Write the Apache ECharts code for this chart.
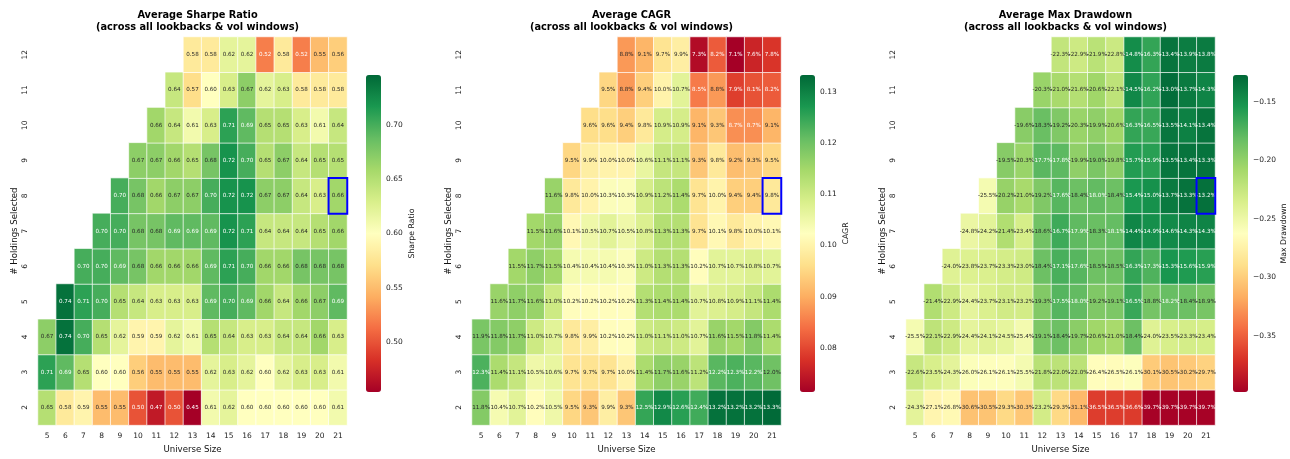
<!DOCTYPE html>
<html>
<head>
<meta charset="utf-8">
<script src="https://cdn.jsdelivr.net/npm/echarts@6/dist/echarts.min.js"></script>
<style>
html,body{margin:0;padding:0;background:#ffffff;}
#chart{width:1290px;height:459px;}
</style>
</head>
<body>
<div id="chart"></div>
<script>
// ---------------- DATA ----------------
const universeSizes = ['5','6','7','8','9','10','11','12','13','14','15','16','17','18','19','20','21'];
const holdingsSelected = ['2','3','4','5','6','7','8','9','10','11','12'];

// rows ordered by holdings 2..12, columns universe 5..21 (null = not tested)
const sharpeRows = [
  [0.65,0.58,0.59,0.55,0.55,0.50,0.47,0.50,0.45,0.61,0.62,0.60,0.60,0.60,0.60,0.60,0.61],
  [0.71,0.69,0.65,0.60,0.60,0.56,0.55,0.55,0.55,0.62,0.63,0.62,0.60,0.62,0.63,0.63,0.61],
  [0.67,0.74,0.70,0.65,0.62,0.59,0.59,0.62,0.61,0.65,0.64,0.63,0.63,0.64,0.64,0.66,0.63],
  [null,0.74,0.71,0.70,0.65,0.64,0.63,0.63,0.63,0.69,0.70,0.69,0.66,0.64,0.66,0.67,0.69],
  [null,null,0.70,0.70,0.69,0.68,0.66,0.66,0.66,0.69,0.71,0.70,0.66,0.66,0.68,0.68,0.68],
  [null,null,null,0.70,0.70,0.68,0.68,0.69,0.69,0.69,0.72,0.71,0.64,0.64,0.64,0.65,0.66],
  [null,null,null,null,0.70,0.68,0.66,0.67,0.67,0.70,0.72,0.72,0.67,0.67,0.64,0.63,0.66],
  [null,null,null,null,null,0.67,0.67,0.66,0.65,0.68,0.72,0.70,0.65,0.67,0.64,0.65,0.65],
  [null,null,null,null,null,null,0.66,0.64,0.61,0.63,0.71,0.69,0.65,0.65,0.63,0.61,0.64],
  [null,null,null,null,null,null,null,0.64,0.57,0.60,0.63,0.67,0.62,0.63,0.58,0.58,0.58],
  [null,null,null,null,null,null,null,null,0.58,0.58,0.62,0.62,0.52,0.58,0.52,0.55,0.56]
];

// CAGR in percent
const cagrRows = [
  [11.8,10.4,10.7,10.2,10.5,9.5,9.3,9.9,9.3,12.5,12.9,12.6,12.4,13.2,13.2,13.2,13.3],
  [12.3,11.4,11.1,10.5,10.6,9.7,9.7,9.7,10.0,11.4,11.7,11.6,11.2,12.2,12.3,12.2,12.0],
  [11.9,11.8,11.7,11.0,10.7,9.8,9.9,10.2,10.2,11.0,11.1,11.0,10.7,11.6,11.5,11.8,11.4],
  [null,11.6,11.7,11.6,11.0,10.2,10.2,10.2,10.2,11.3,11.4,11.4,10.7,10.8,10.9,11.1,11.4],
  [null,null,11.5,11.7,11.5,10.4,10.4,10.4,10.3,11.0,11.3,11.3,10.2,10.7,10.7,10.8,10.7],
  [null,null,null,11.5,11.6,10.1,10.5,10.7,10.5,10.8,11.3,11.3,9.7,10.1,9.8,10.0,10.1],
  [null,null,null,null,11.6,9.8,10.0,10.3,10.3,10.9,11.2,11.4,9.7,10.0,9.4,9.4,9.8],
  [null,null,null,null,null,9.5,9.9,10.0,10.0,10.6,11.1,11.1,9.3,9.8,9.2,9.3,9.5],
  [null,null,null,null,null,null,9.6,9.6,9.4,9.8,10.9,10.9,9.1,9.3,8.7,8.7,9.1],
  [null,null,null,null,null,null,null,9.5,8.8,9.4,10.0,10.7,8.5,8.8,7.9,8.1,8.2],
  [null,null,null,null,null,null,null,null,8.8,9.1,9.7,9.9,7.3,8.2,7.1,7.6,7.8]
];

// Max drawdown in percent
const mddRows = [
  [-24.3,-27.1,-26.8,-30.6,-30.5,-29.3,-30.3,-23.2,-29.3,-31.1,-36.5,-36.5,-36.6,-39.7,-39.7,-39.7,-39.7],
  [-22.6,-23.5,-24.3,-26.0,-26.1,-26.1,-25.5,-21.8,-22.0,-22.0,-26.4,-26.5,-26.1,-30.1,-30.5,-30.2,-29.7],
  [-25.5,-22.1,-22.9,-24.4,-24.1,-24.5,-25.4,-19.1,-18.4,-19.7,-20.6,-21.0,-18.4,-24.0,-23.5,-23.3,-23.4],
  [null,-21.4,-22.9,-24.4,-23.7,-23.1,-23.2,-19.3,-17.5,-18.0,-19.2,-19.1,-16.5,-18.8,-18.2,-18.4,-18.9],
  [null,null,-24.0,-23.8,-23.7,-23.3,-23.0,-18.4,-17.1,-17.6,-18.5,-18.5,-16.3,-17.3,-15.3,-15.6,-15.9],
  [null,null,null,-24.8,-24.2,-21.4,-23.4,-18.6,-16.7,-17.9,-18.3,-18.1,-14.4,-14.9,-14.6,-14.3,-14.3],
  [null,null,null,null,-25.5,-20.2,-21.0,-19.2,-17.6,-18.4,-18.0,-18.4,-15.4,-15.0,-13.7,-13.3,-13.2],
  [null,null,null,null,null,-19.5,-20.3,-17.7,-17.8,-19.9,-19.0,-19.8,-15.7,-15.9,-13.5,-13.4,-13.3],
  [null,null,null,null,null,null,-19.6,-18.3,-19.2,-20.3,-19.9,-20.6,-16.3,-16.5,-13.5,-14.1,-13.4],
  [null,null,null,null,null,null,null,-20.3,-21.0,-21.6,-20.6,-22.1,-14.5,-16.2,-13.0,-13.7,-14.3],
  [null,null,null,null,null,null,null,null,-22.3,-22.9,-21.9,-22.8,-14.8,-16.3,-13.4,-13.9,-13.8]
];

// colour-bar extents and ticks
const sharpeScale = [0.454, 0.746];
const cagrScale = [0.0714, 0.1333];
const mddScale = [-0.398, -0.127];
const sharpeTicks = [0.50, 0.55, 0.60, 0.65, 0.70];
const cagrTicks = [0.08, 0.09, 0.10, 0.11, 0.12, 0.13];
const mddTicks = [-0.35, -0.30, -0.25, -0.20, -0.15];

// highlighted configuration
const highlightUniverse = '21';
const highlightHoldings = '8';

// ---------------- STYLE ----------------
const FONT = 'DejaVu Sans';
const RdYlGn = ['#a50026','#d73027','#f46d43','#fdae61','#fee08b','#ffffbf','#d9ef8b','#a6d96a','#66bd63','#1a9850','#006837'];

function hex2rgb(h){return [parseInt(h.substr(1,2),16),parseInt(h.substr(3,2),16),parseInt(h.substr(5,2),16)];}
const stops = RdYlGn.map(hex2rgb);
function cmap(t){
  t = Math.max(0, Math.min(1, t));
  const p = t * (stops.length - 1);
  const i = Math.min(stops.length - 2, Math.floor(p));
  const f = p - i;
  return stops[i].map((c, k) => c + (stops[i+1][k] - c) * f);
}
function lum(rgb){
  const l = rgb.map(c => { c = c/255; return c <= 0.03928 ? c/12.92 : Math.pow((c+0.055)/1.055, 2.4); });
  return 0.2126*l[0] + 0.7152*l[1] + 0.0722*l[2];
}

const G = {top: 37, width: 309, height: 393};
const CB = {top: 75, width: 15, height: 317};

const panels = [
  {title:'Average Sharpe Ratio\n(across all lookbacks & vol windows)', rows: sharpeRows, factor: 1, scale: sharpeScale, ticks: sharpeTicks,
   name:'Sharpe Ratio', left: 38, cbLeft: 366, fmt: v => v.toFixed(2), tickFmt: v => v.toFixed(2)},
  {title:'Average CAGR\n(across all lookbacks & vol windows)', rows: cagrRows, factor: 100, scale: cagrScale, ticks: cagrTicks,
   name:'CAGR', left: 472, cbLeft: 800, fmt: v => (v*100).toFixed(1) + '%', tickFmt: v => v.toFixed(2)},
  {title:'Average Max Drawdown\n(across all lookbacks & vol windows)', rows: mddRows, factor: 100, scale: mddScale, ticks: mddTicks,
   name:'Max Drawdown', left: 906, cbLeft: 1233, fmt: v => (v*100).toFixed(1) + '%', tickFmt: v => v.toFixed(2).replace('-', '\u2212')}
];

const option = {
  backgroundColor: '#ffffff',
  animation: false,
  textStyle: {fontFamily: FONT},
  title: [], grid: [], xAxis: [], yAxis: [], visualMap: [], series: []
};

panels.forEach((p, i) => {
  const g = i * 2;
  option.title.push({
    text: p.title, left: p.left + G.width / 2, top: 4, textAlign: 'center',
    textStyle: {fontFamily: FONT, fontSize: 9.8, fontWeight: 'bold', color: '#000', lineHeight: 12.5}
  });
  option.grid.push({left: p.left, top: G.top, width: G.width, height: G.height});
  option.grid.push({left: p.cbLeft, top: CB.top, width: CB.width, height: CB.height});

  option.xAxis.push({
    type: 'category', gridIndex: g, data: universeSizes,
    axisLine: {show: false}, splitLine: {show: false}, splitArea: {show: false},
    axisTick: {alignWithLabel: true, length: 3.5, lineStyle: {color: '#333', width: 0.8}},
    axisLabel: {interval: 0, fontSize: 7.5, color: '#222', margin: 7, fontFamily: FONT},
    name: 'Universe Size', nameLocation: 'middle', nameGap: 19,
    nameTextStyle: {fontSize: 8.6, color: '#111', fontFamily: FONT}
  });
  option.xAxis.push({type: 'value', gridIndex: g + 1, show: false, min: 0, max: 1});

  option.yAxis.push({
    type: 'category', gridIndex: g, data: holdingsSelected,
    axisLine: {show: false}, splitLine: {show: false}, splitArea: {show: false},
    axisTick: {alignWithLabel: true, length: 3.5, lineStyle: {color: '#333', width: 0.8}},
    axisLabel: {interval: 0, fontSize: 7.5, color: '#222', margin: 9, rotate: 90, fontFamily: FONT},
    name: '# Holdings Selected', nameLocation: 'middle', nameGap: 19,
    nameTextStyle: {fontSize: 8.6, color: '#111', fontFamily: FONT}
  });
  option.yAxis.push({
    type: 'value', gridIndex: g + 1, min: p.scale[0], max: p.scale[1], position: 'right',
    axisLine: {show: false}, splitLine: {show: false},
    axisTick: {show: true, length: 3.5, customValues: p.ticks, lineStyle: {color: '#333', width: 0.8}},
    axisLabel: {customValues: p.ticks, formatter: p.tickFmt, fontSize: 7.5, color: '#222', margin: 5, fontFamily: FONT},
    name: p.name, nameLocation: 'middle', nameGap: 27, nameRotate: 90,
    nameTextStyle: {fontSize: 7.8, color: '#111', fontFamily: FONT}
  });

  const data = [];
  p.rows.forEach((row, yi) => {
    row.forEach((raw, xi) => {
      if (raw === null) return;
      const v = raw / p.factor;
      const t = (v - p.scale[0]) / (p.scale[1] - p.scale[0]);
      const c = lum(cmap(t)) > 0.408 ? '#262626' : '#ffffff';
      data.push({value: [xi, yi, v], label: {color: c}});
    });
  });

  option.visualMap.push({
    type: 'continuous', seriesIndex: option.series.length, dimension: 2,
    min: p.scale[0], max: p.scale[1], inRange: {color: RdYlGn},
    left: p.cbLeft, top: CB.top, itemWidth: CB.width, itemHeight: CB.height,
    calculable: false, padding: 0, text: null, show: true, hoverLink: false
  });

  option.series.push({
    type: 'heatmap', xAxisIndex: g, yAxisIndex: g, data: data,
    itemStyle: {borderColor: '#ffffff', borderWidth: 0.7},
    label: {show: true, fontSize: 5.6, fontFamily: FONT, formatter: prm => p.fmt(prm.value[2])},
    emphasis: {disabled: true}
  });

  option.series.push({
    type: 'heatmap', xAxisIndex: g, yAxisIndex: g, z: 5,
    data: [[universeSizes.indexOf(highlightUniverse), holdingsSelected.indexOf(highlightHoldings), 0]],
    itemStyle: {color: 'rgba(0,0,0,0)', borderColor: '#0000ff', borderWidth: 2},
    label: {show: false}, emphasis: {disabled: true}, silent: true
  });
});

const chart = echarts.init(document.getElementById('chart'), null, {renderer: 'canvas'});
chart.setOption(option);
</script>
</body>
</html>
